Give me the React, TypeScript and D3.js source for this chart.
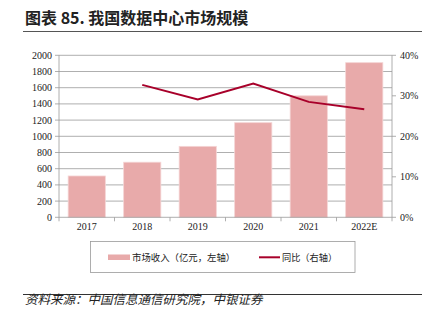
import React from "react";
import * as d3 from "d3";

const categories = ["2017", "2018", "2019", "2020", "2021", "2022E"];
const revenue = [510, 680, 876, 1168, 1500, 1909];
const yoyCats = ["2018", "2019", "2020", "2021", "2022E"];
const yoy = [32.7, 29.1, 33.0, 28.5, 26.7];
const leftTicks = [0, 200, 400, 600, 800, 1000, 1200, 1400, 1600, 1800, 2000];
const rightTicks = [0, 10, 20, 30, 40];

const title = "图表 85. 我国数据中心市场规模";
const source = "资料来源：中国信息通信研究院，中银证券";
const legendBar = "市场收入（亿元，左轴）";
const legendLine = "同比（右轴）";

export default function App() {
  const W = 431, H = 323;
  const left = 59, right = 392, top = 55.3, bottom = 217.3;
  const x = d3.scaleBand().domain(categories).range([left, right]).paddingInner(0.33).paddingOuter(0.165);
  const xb = d3.scaleBand().domain(categories).range([left, right]);
  const yL = d3.scaleLinear().domain([0, 2000]).range([bottom, top]);
  const yR = d3.scaleLinear().domain([0, 40]).range([bottom, top]);
  const line = d3.line<number>()
    .x((_, i) => (xb(yoyCats[i]) as number) + xb.bandwidth() / 2)
    .y((d) => yR(d));
  const serif = "'Liberation Serif', 'DejaVu Serif', serif";
  const cjk = "'Noto Sans CJK SC', sans-serif";
  return (
    <svg width={W} height={H} style={{ position: "absolute", left: 0, top: 0, background: "#fff" }}>
      <text x={25} y={24} fontFamily={cjk} fontWeight="bold" fontSize={16} fill="#222">{title}</text>
      <line x1={23} x2={422} y1={31.5} y2={31.5} stroke="#555" strokeWidth={1.2} />
      {leftTicks.map((t) => (
        <g key={t}>
          {t > 0 && <line x1={left} x2={right} y1={yL(t)} y2={yL(t)} stroke="#9a9a9a" strokeWidth={0.8} />}
          <line x1={left - 4} x2={left} y1={yL(t)} y2={yL(t)} stroke="#9a9a9a" strokeWidth={0.8} />
          <text x={52} y={yL(t) + 3.5} textAnchor="end" fontFamily={serif} fontSize={10} fill="#222">{t}</text>
        </g>
      ))}
      {categories.map((c, i) => (
        <rect key={c} x={x(c)} y={yL(revenue[i])} width={x.bandwidth()} height={bottom - yL(revenue[i])}
          fill="#E8AAAA" stroke="#F4D4D4" strokeWidth={0.8} />
      ))}
      <line x1={left} x2={left} y1={top} y2={bottom} stroke="#9a9a9a" strokeWidth={0.8} />
      <line x1={right} x2={right} y1={top} y2={bottom} stroke="#9a9a9a" strokeWidth={0.8} />
      <line x1={left} x2={right} y1={bottom} y2={bottom} stroke="#9a9a9a" strokeWidth={0.8} />
      {categories.map((c) => (
        <line key={"t" + c} x1={xb(c)} x2={xb(c)} y1={bottom} y2={bottom + 4} stroke="#9a9a9a" strokeWidth={0.8} />
      ))}
      <line x1={right} x2={right} y1={bottom} y2={bottom + 4} stroke="#9a9a9a" strokeWidth={0.8} />
      {categories.map((c) => (
        <text key={"l" + c} x={(xb(c) as number) + xb.bandwidth() / 2} y={229.5} textAnchor="middle" fontFamily={serif} fontSize={10} fill="#222">{c}</text>
      ))}
      {rightTicks.map((t) => (
        <g key={"r" + t}>
          <line x1={right} x2={right + 4} y1={yR(t)} y2={yR(t)} stroke="#9a9a9a" strokeWidth={0.8} />
          <text x={400} y={yR(t) + 3.5} fontFamily={serif} fontSize={10} fill="#222">{t}%</text>
        </g>
      ))}
      <path d={line(yoy) || ""} fill="none" stroke="#A8002A" strokeWidth={2} />
      <rect x={90.5} y={241.5} width={264.5} height={31} fill="none" stroke="#9a9a9a" strokeWidth={0.8} />
      <rect x={108} y={254.5} width={22} height={5.5} fill="#E8AAAA" />
      <text x={132} y={260.5} fontFamily={cjk} fontSize={9.4} fill="#222">{legendBar}</text>
      <line x1={259} x2={280} y1={257.3} y2={257.3} stroke="#A8002A" strokeWidth={2} />
      <text x={282} y={260.5} fontFamily={cjk} fontSize={9.2} fill="#222">{legendLine}</text>
      <line x1={23} x2={422} y1={294.5} y2={294.5} stroke="#333" strokeWidth={1} />
      <text x={25} y={303.5} fontFamily={cjk} fontStyle="italic" fontSize={12.5} fill="#222">{source}</text>
    </svg>
  );
}
